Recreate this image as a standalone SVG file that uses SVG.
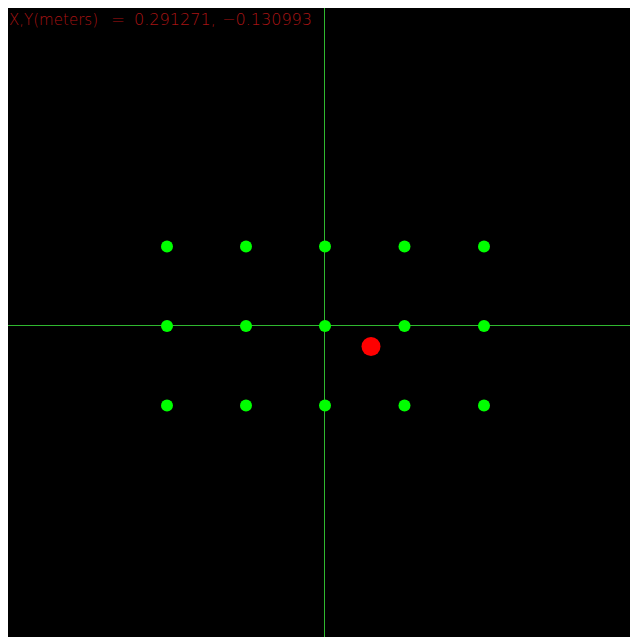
<svg xmlns="http://www.w3.org/2000/svg" width="630" height="637" viewBox="0 0 630 637">
<style>
.g{fill:#00ff00}
.ax{stroke:#2fb82f;stroke-width:1}
.t{font-family:"DejaVu Sans","Liberation Sans",sans-serif;font-weight:200;font-size:16px;fill:#a81414}
</style>
<rect width="630" height="637" fill="#ffffff"/>
<rect x="8" y="8" width="622" height="629" fill="#000000"/>
<g id="connectors">
<line class="ax" x1="324.5" y1="8" x2="324.5" y2="637"/>
<line class="ax" x1="8" y1="325.5" x2="630" y2="325.5"/>
</g>
<g id="grid">
<circle class="g" cx="167" cy="246.5" r="6"/>
<circle class="g" cx="246" cy="246.5" r="6"/>
<circle class="g" cx="325" cy="246.5" r="6"/>
<circle class="g" cx="404.5" cy="246.5" r="6"/>
<circle class="g" cx="484" cy="246.5" r="6"/>
<circle class="g" cx="167" cy="326" r="6"/>
<circle class="g" cx="246" cy="326" r="6"/>
<circle class="g" cx="325" cy="326" r="6"/>
<circle class="g" cx="404.5" cy="326" r="6"/>
<circle class="g" cx="484" cy="326" r="6"/>
<circle class="g" cx="167" cy="405.5" r="6"/>
<circle class="g" cx="246" cy="405.5" r="6"/>
<circle class="g" cx="325" cy="405.5" r="6"/>
<circle class="g" cx="404.5" cy="405.5" r="6"/>
<circle class="g" cx="484" cy="405.5" r="6"/>
</g>
<g id="robot">
<circle cx="371" cy="346.5" r="9.5" fill="#ff0000"/>
</g>
<g id="label">
<text class="t" y="25"><tspan x="9" textLength="89" lengthAdjust="spacingAndGlyphs">X,Y(meters)</tspan><tspan x="111" textLength="14" lengthAdjust="spacingAndGlyphs">=</tspan><tspan x="134" textLength="82" lengthAdjust="spacingAndGlyphs">0.291271,</tspan><tspan x="222" textLength="90" lengthAdjust="spacingAndGlyphs">−0.130993</tspan></text>
</g>
</svg>
